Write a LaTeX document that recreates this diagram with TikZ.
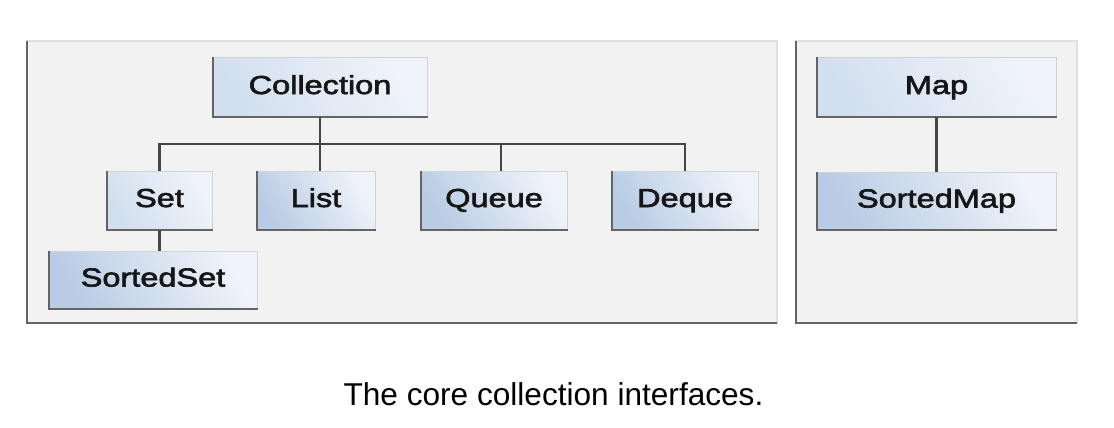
\documentclass[tikz,border=0pt]{standalone}
\usepackage{fontspec}
\setmainfont{Liberation Sans}
\newfontfamily\boxfont[FakeStretch=1.25,FakeBold=2.5]{Liberation Sans}
\usepackage{tikz}
\definecolor{panelfill}{RGB}{242,242,242}
\definecolor{panelrim}{RGB}{222,222,222}
\definecolor{edgegray}{RGB}{100,100,100}
\definecolor{linkgray}{RGB}{70,70,70}
\definecolor{boxrim}{RGB}{205,210,216}
\definecolor{boxlight}{RGB}{240,244,250}
\definecolor{boxdark}{RGB}{185,204,228}
\definecolor{boxpale}{RGB}{210,223,239}
\definecolor{boxtext}{RGB}{22,22,22}

\begin{document}
\begin{tikzpicture}[x=1pt,y=-1pt,
    box/.style={draw=boxrim, line width=1pt, top color=#1, bottom color=boxlight,
        shading angle=120, minimum height=58pt, inner sep=0pt,
        text height=18pt, text depth=4pt, text=boxtext,
        font=\boxfont\fontsize{26}{26}\selectfont},
    box/.default=boxdark,
    link/.style={draw=linkgray, line width=2.4pt},
    shadowedge/.style={draw=edgegray, line width=2pt},
    panel/.style={fill=panelfill, draw=panelrim, line width=1.5pt},
    caption/.style={font=\fontsize{31.6}{31.6}\selectfont}]
    \useasboundingbox (0,0) rectangle (1114,428);

    % panels
    \draw[panel] (27,41) rectangle (777,323);
    \draw[shadowedge] (27,41) -- (27,323) -- (777,323);
    \draw[panel] (796,41) rectangle (1077,323);
    \draw[shadowedge] (796,41) -- (796,323) -- (1077,323);

    % collection tree
    \node[box=boxpale, minimum width=214pt] (coll) at (320,87) {Collection};
    \node[box=boxpale, minimum width=105pt] (set) at (159.5,200) {Set};
    \node[box, minimum width=118pt] (list) at (316,200) {List};
    \node[box, minimum width=146pt] (queue) at (494,200) {Queue};
    \node[box, minimum width=146pt] (deque) at (685,200) {Deque};
    \node[box, minimum width=208pt, minimum height=57pt] (sset) at (153,279.5) {SortedSet};

    % map tree
    \node[box=boxpale, minimum width=239pt] (map) at (936.5,87) {Map};
    \node[box, minimum width=239pt, minimum height=57pt] (smap) at (936.5,200.5) {SortedMap};

    \foreach \n in {coll,set,list,queue,deque,sset,map,smap}
        \draw[shadowedge] (\n.north west) -- (\n.south west) -- (\n.south east);

    \coordinate (bus) at (320,144);
    \draw[link] (coll.south) -- (coll.south |- list.north);
    \draw[link] (set.north) |- (bus) -| (deque.north);
    \draw[link] ([xshift=7pt]queue.north) -- ([xshift=7pt]queue.north |- bus);
    \draw[link] (set.south) -- (set.south |- sset.north);
    \draw[link] (map.south) -- (smap.north);

    \node[caption, anchor=base] (cap) at (553.5,405) {The core collection interfaces.};
\end{tikzpicture}
\end{document}
